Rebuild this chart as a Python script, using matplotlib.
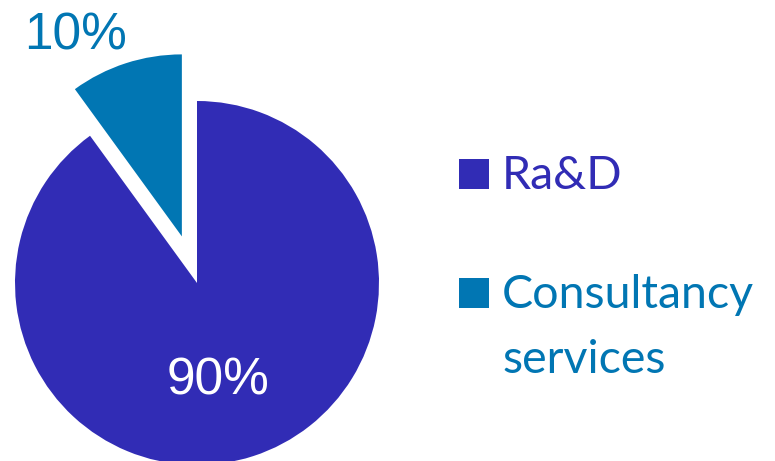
import matplotlib
matplotlib.use("Agg")
import matplotlib.pyplot as plt
from matplotlib.patches import Rectangle

# data
categories = ["Ra&D", "Consultancy\nservices"]
shares = [90, 10]
pct_labels = ["90%", "10%"]
colors = ["#312cb5", "#0176b3"]
explode = [0, 49]

W, H = 775, 461
fig = plt.figure(figsize=(W / 100, H / 100), dpi=100)
ax = fig.add_axes([0, 0, 1, 1])

# pie drawn in pixel units (y up)
wedges, _ = ax.pie(shares, colors=colors, explode=explode, startangle=90,
                   counterclock=False, radius=182, center=(197, H - 283),
                   wedgeprops=dict(linewidth=0))
ax.set_xlim(0, W)
ax.set_ylim(0, H)
ax.set_aspect("auto")
ax.axis("off")

# percentage labels
pct_font = dict(family="Liberation Sans", fontsize=37, ha="center", va="baseline")
ax.text(218, H - 394, pct_labels[0], color="white", **pct_font)
ax.text(76, H - 50, pct_labels[1], color=colors[1], **pct_font)

# legend drawn by hand so the square sits by the first line
leg_tops = [159, 278]
for cat, col, top in zip(categories, colors, leg_tops):
  ax.add_patch(Rectangle((459, H - top - 30), 30, 30, color=col, lw=0))
  lines = cat.split("\n")
  for i, ln in enumerate(lines):
    ax.text(502, H - (top + 30) - i * 65, ln, color=col, family="Lato",
            fontsize=33.5, ha="left", va="baseline")

fig.savefig("out.png", dpi=100)
